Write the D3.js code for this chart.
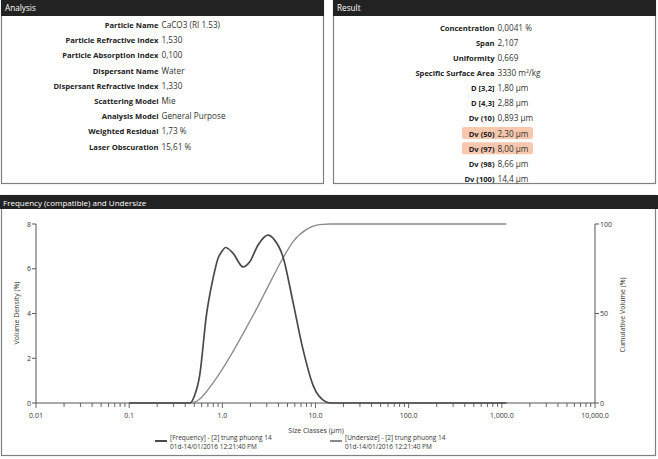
<!DOCTYPE html>
<html><head><meta charset="utf-8">
<script src="https://cdnjs.cloudflare.com/ajax/libs/d3/7.8.5/d3.min.js"></script>
<style>
html,body{margin:0;padding:0;background:#fff;}
svg{display:block;font-family:"Open Sans","Noto Sans",sans-serif;}
</style></head><body>
<svg id="c" width="658" height="459"></svg>
<script>
// ---------- data ----------
const analysisLabels = ["Particle Name","Particle Refractive Index","Particle Absorption Index","Dispersant Name","Dispersant Refractive Index","Scattering Model","Analysis Model","Weighted Residual","Laser Obscuration"];
const analysisValues = ["CaCO3 (RI 1.53)","1,530","0,100","Water","1,330","Mie","General Purpose","1,73 %","15,61 %"];
const resultLabels = ["Concentration","Span","Uniformity","Specific Surface Area","D [3,2]","D [4,3]","Dv (10)","Dv (50)","Dv (97)","Dv (98)","Dv (100)"];
const resultValues = ["0,0041 %","2,107","0,669","3330 m²/kg","1,80 µm","2,88 µm","0,893 µm","2,30 µm","8,00 µm","8,66 µm","14,4 µm"];
const resultHighlighted = ["Dv (50)","Dv (97)"];

const freqSizes  = [0.1, 0.45, 0.5, 0.572, 0.675, 0.795, 0.9, 1.0, 1.08, 1.3, 1.67, 1.97, 2.41, 3.09, 3.64, 4.48, 5.73, 7.3, 9.4, 12.9, 14.9, 1120];
const freqValues = [0,   0,    0.3, 1.25,  3.93,  5.57,  6.47, 6.8, 6.95, 6.7, 6.08, 6.31, 7.05, 7.5,  7.28, 6.53, 4.52, 2.44, 0.8, 0.06, 0,    0];
const cumSizes  = [0.1, 0.45, 0.5, 0.55, 0.6, 0.67, 0.75, 0.893, 1.0,  1.3,  1.74, 2.3, 3.09, 4.48, 5.73, 8.0, 10,   12,   14.4, 1120];
const cumValues = [0,   0,    0.5, 1.5,  3.2, 6.1,  9.4,  15,    18.9, 28.7, 40.4, 52,  65,   81,   90,   97,  99.2, 99.8, 100,  100];

const xTickValues = [0.01, 0.1, 1, 10, 100, 1000, 10000];
const xTickLabels = ["0.01","0.1","1.0","10.0","100.0","1,000.0","10,000.0"];
const yLeftTicks = [0,2,4,6,8];
const yRightTicks = [0,50,100];
const legendLines = [["[Frequency] - [2] trung phuong 14","01d-14/01/2016 12:21:40 PM"],["[Undersize] - [2] trung phuong 14","01d-14/01/2016 12:21:40 PM"]];

// ---------- drawing ----------
const svg = d3.select("#c");
const dark = "#222";
const border = "#808080";

function panel(x, y, w, h, title, hh) {
  svg.append("rect").attr("x", x+0.5).attr("y", y+0.5).attr("width", w).attr("height", h)
    .attr("fill", "#fff").attr("stroke", border).attr("stroke-width", 1.2);
  svg.append("rect").attr("x", x).attr("y", y).attr("width", w+1).attr("height", hh).attr("fill", dark);
  svg.append("text").attr("x", x+4).attr("y", y+hh/2+3).attr("fill", "#fff")
    .attr("font-size", 8.2).text(title);
}

panel(1, 0, 322, 183, "Analysis", 16);
panel(333, 0, 322, 183, "Result", 16);

function rows(labels, values, xSplit, y0, dy, hl) {
  labels.forEach((l, i) => {
    const y = y0 + i*dy;
    if (hl && hl.includes(l)) {
      svg.append("rect").attr("x", xSplit-34).attr("y", y-6.5).attr("width", 71).attr("height", 12)
        .attr("fill", "#f7c7ae").attr("rx", 2);
    }
    svg.append("text").attr("x", xSplit-1.5).attr("y", y+3).attr("text-anchor", "end")
      .attr("font-size", 7.6).attr("font-weight", "bold").attr("fill", "#222").text(l);
    svg.append("text").attr("x", xSplit+1.5).attr("y", y+3)
      .attr("font-size", 8.2).attr("fill", "#333").text(values[i]);
  });
}
rows(analysisLabels, analysisValues, 160, 25, 15.2, null);
rows(resultLabels, resultValues, 496, 27.7, 15.13, resultHighlighted);

// chart panel
svg.append("rect").attr("x", 1.5).attr("y", 195.5).attr("width", 654).attr("height", 260)
  .attr("fill", "#fff").attr("stroke", border).attr("stroke-width", 1.2);
svg.append("rect").attr("x", 0).attr("y", 195).attr("width", 658).attr("height", 14).attr("fill", dark);
svg.append("text").attr("x", 3).attr("y", 205.5).attr("fill", "#fff").attr("font-size", 8)
  .text("Frequency (compatible) and Undersize");

const x = d3.scaleLog().domain([0.01, 10000]).range([36, 595]);
const yL = d3.scaleLinear().domain([0, 8]).range([403, 224]);
const yR = d3.scaleLinear().domain([0, 100]).range([403, 224]);

const axisColor = "#555";
// x axis
const minorTicks = [];
for (let e = -2; e < 4; e++) for (let m = 1; m < 10; m++) minorTicks.push(m*Math.pow(10, e));
minorTicks.push(10000);
const gx = svg.append("g").attr("transform", "translate(0,403)");
gx.append("line").attr("x1", x(0.01)).attr("x2", x(10000)).attr("stroke", axisColor);
gx.selectAll("line.t").data(minorTicks).join("line").attr("class","t")
  .attr("x1", d => x(d)).attr("x2", d => x(d)).attr("y1", 0)
  .attr("y2", d => xTickValues.includes(d) ? 5 : 4).attr("stroke", axisColor).attr("stroke-width", 0.9);
gx.selectAll("text").data(xTickValues).join("text")
  .attr("x", d => x(d)).attr("y", 15).attr("text-anchor", "middle")
  .attr("font-size", 7).attr("fill", "#333").text((d, i) => xTickLabels[i]);
svg.append("text").attr("x", 316).attr("y", 433).attr("text-anchor", "middle")
  .attr("font-size", 7).attr("fill", "#333").text("Size Classes (µm)");

// left axis
const gl = svg.append("g").attr("transform", "translate(36,0)");
gl.append("line").attr("y1", yL(0)).attr("y2", yL(8)).attr("stroke", axisColor);
gl.selectAll("line.t").data(yLeftTicks).join("line").attr("class","t")
  .attr("x1", -4).attr("x2", 0).attr("y1", d => yL(d)).attr("y2", d => yL(d)).attr("stroke", axisColor);
gl.selectAll("text").data(yLeftTicks).join("text")
  .attr("x", -5).attr("y", d => yL(d)+2.5).attr("text-anchor", "end")
  .attr("font-size", 7).attr("fill", "#333").text(d => d);
svg.append("text").attr("transform", "translate(19,313) rotate(-90)").attr("text-anchor", "middle")
  .attr("font-size", 7).attr("fill", "#333").text("Volume Density (%)");

// right axis
const gr = svg.append("g").attr("transform", "translate(595,0)");
gr.append("line").attr("y1", yR(0)).attr("y2", yR(100)).attr("stroke", axisColor);
gr.selectAll("line.t").data(yRightTicks).join("line").attr("class","t")
  .attr("x1", 0).attr("x2", 4).attr("y1", d => yR(d)).attr("y2", d => yR(d)).attr("stroke", axisColor);
gr.selectAll("text").data(yRightTicks).join("text")
  .attr("x", 5).attr("y", d => yR(d)+2.5)
  .attr("font-size", 7).attr("fill", "#333").text(d => d);
svg.append("text").attr("transform", "translate(625,315) rotate(-90)").attr("text-anchor", "middle")
  .attr("font-size", 7).attr("fill", "#333").text("Cumulative Volume (%)");

// curves
const cumLine = d3.line().x(d => x(d[0])).y(d => yR(d[1])).curve(d3.curveMonotoneX);
svg.append("path").datum(cumSizes.map((s, i) => [s, cumValues[i]]))
  .attr("d", cumLine).attr("fill", "none").attr("stroke", "#8a8a8a").attr("stroke-width", 1.3);
const freqLine = d3.line().x(d => x(d[0])).y(d => yL(d[1])).curve(d3.curveMonotoneX);
svg.append("path").datum(freqSizes.map((s, i) => [s, freqValues[i]]))
  .attr("d", freqLine).attr("fill", "none").attr("stroke", "#4a4a4a").attr("stroke-width", 1.7);

// legend
const legX = [155, 330];
const legColors = ["#4a4a4a", "#8a8a8a"];
legendLines.forEach((lines, i) => {
  svg.append("line").attr("x1", legX[i]).attr("x2", legX[i]+12).attr("y1", 441).attr("y2", 441)
    .attr("stroke", legColors[i]).attr("stroke-width", 2);
  lines.forEach((t, j) => {
    svg.append("text").attr("x", legX[i]+15).attr("y", 440 + j*9).attr("font-size", 6.5)
      .attr("fill", "#333").text(t);
  });
});
</script>
</body></html>
